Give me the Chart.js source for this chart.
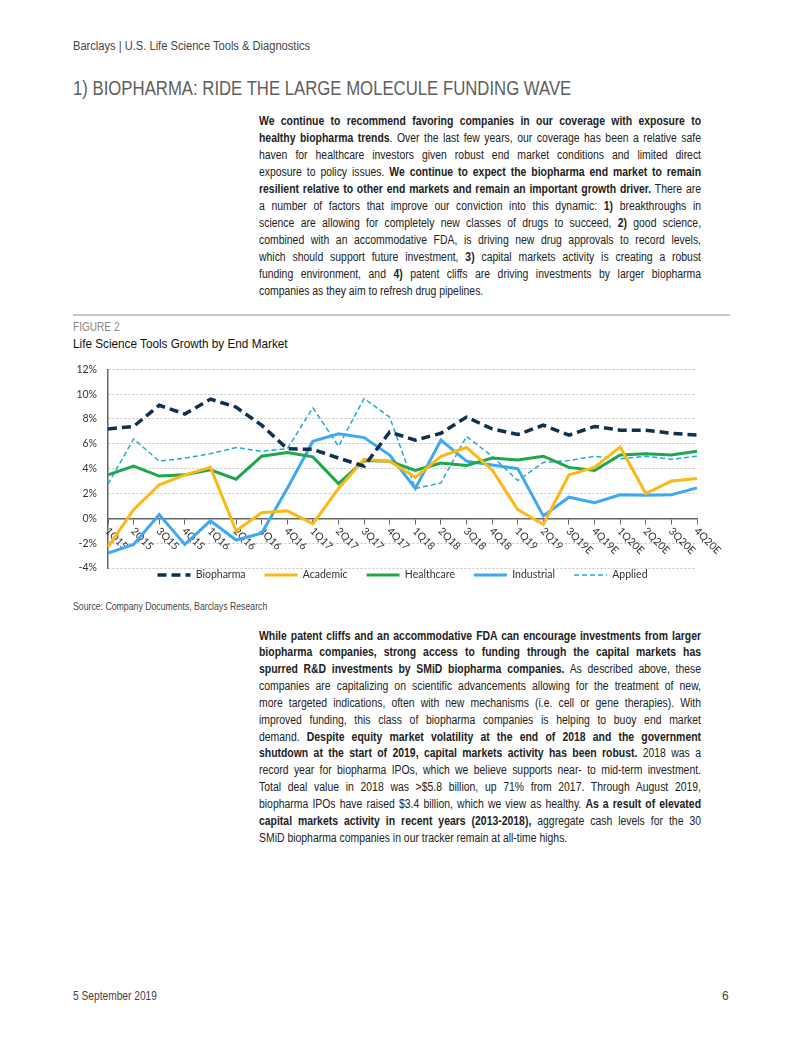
<!DOCTYPE html>
<html>
<head>
<meta charset="utf-8">
<script src="https://cdn.jsdelivr.net/npm/chart.js@4/dist/chart.umd.min.js"></script>
<style>
  html, body { margin: 0; padding: 0; background: #fff; }
  body { width: 802px; height: 1037px; position: relative; overflow: hidden;
         font-family: "Liberation Sans", Arial, sans-serif; color: #222; }
  .abs { position: absolute; white-space: nowrap; transform-origin: 0 0; }
  .hdr { left: 73px; top: 38px; font-size: 12.5px; line-height: 16px; color: #444; transform: scaleX(0.89); }
  .title { left: 73px; top: 76px; font-size: 20px; line-height: 24px; color: #5e5e5e; transform: scaleX(0.837); }
  .para { position: absolute; left: 259px; width: 442px; font-size: 12.5px; color: #222; }
  .para div { width: 530px; transform: scaleX(0.834); transform-origin: 0 0;
              text-align: justify; text-align-last: justify; height: 17.1px; line-height: 17.1px; }
  .para div.last { text-align-last: left; }
  .para.p2 div { height: 16.85px; line-height: 16.85px; }
  .rule { position: absolute; left: 73px; top: 314px; width: 657px; height: 2px; background: #c8c8c8; }
  .fig { left: 73px; top: 320px; font-size: 12px; line-height: 14px; color: #888; transform: scaleX(0.84); }
  .ctitle { left: 73px; top: 336px; font-size: 13.5px; line-height: 16px; color: #111; transform: scaleX(0.87); }
  .src { left: 73px; top: 599px; font-size: 10.5px; line-height: 14px; color: #444; transform: scaleX(0.83); }
  .foot { left: 73px; top: 989px; font-size: 12px; line-height: 14px; color: #444; transform: scaleX(0.85); }
  .pg { left: 722px; top: 989px; font-size: 12px; line-height: 14px; color: #444; }
  #wrap { position: absolute; left: 60px; top: 352px; width: 685px; height: 236px; }
</style>
</head>
<body>
<div class="abs hdr">Barclays | U.S. Life Science Tools &amp; Diagnostics</div>
<div class="abs title">1) BIOPHARMA: RIDE THE LARGE MOLECULE FUNDING WAVE</div>

<div class="para" style="top:112.5px">
  <div><b>We continue to recommend favoring companies in our coverage with exposure to</b></div>
  <div><b>healthy biopharma trends</b>. Over the last few years, our coverage has been a relative safe</div>
  <div>haven for healthcare investors given robust end market conditions and limited direct</div>
  <div>exposure to policy issues. <b>We continue to expect the biopharma end market to remain</b></div>
  <div><b>resilient relative to other end markets and remain an important growth driver.</b> There are</div>
  <div>a number of factors that improve our conviction into this dynamic: <b>1)</b> breakthroughs in</div>
  <div>science are allowing for completely new classes of drugs to succeed, <b>2)</b> good science,</div>
  <div>combined with an accommodative FDA, is driving new drug approvals to record levels,</div>
  <div>which should support future investment, <b>3)</b> capital markets activity is creating a robust</div>
  <div>funding environment, and <b>4)</b> patent cliffs are driving investments by larger biopharma</div>
  <div class="last">companies as they aim to refresh drug pipelines.</div>
</div>

<div class="rule"></div>
<div class="abs fig">FIGURE 2</div>
<div class="abs ctitle">Life Science Tools Growth by End Market</div>

<div id="wrap"><canvas id="c"></canvas></div>

<div class="abs src">Source: Company Documents, Barclays Research</div>

<div class="para p2" style="top:627.5px">
  <div><b>While patent cliffs and an accommodative FDA can encourage investments from larger</b></div>
  <div><b>biopharma companies, strong access to funding through the capital markets has</b></div>
  <div><b>spurred R&amp;D investments by SMiD biopharma companies.</b> As described above, these</div>
  <div>companies are capitalizing on scientific advancements allowing for the treatment of new,</div>
  <div>more targeted indications, often with new mechanisms (i.e. cell or gene therapies). With</div>
  <div>improved funding, this class of biopharma companies is helping to buoy end market</div>
  <div>demand. <b>Despite equity market volatility at the end of 2018 and the government</b></div>
  <div><b>shutdown at the start of 2019, capital markets activity has been robust.</b> 2018 was a</div>
  <div>record year for biopharma IPOs, which we believe supports near- to mid-term investment.</div>
  <div>Total deal value in 2018 was &gt;$5.8 billion, up 71% from 2017. Through August 2019,</div>
  <div>biopharma IPOs have raised $3.4 billion, which we view as healthy. <b>As a result of elevated</b></div>
  <div><b>capital markets activity in recent years (2013-2018),</b> aggregate cash levels for the 30</div>
  <div class="last">SMiD biopharma companies in our tracker remain at all-time highs.</div>
</div>

<div class="abs foot">5 September 2019</div>
<div class="abs pg">6</div>

<script>
const quarters = ['1Q15','2Q15','3Q15','4Q15','1Q16','2Q16','3Q16','4Q16','1Q17','2Q17','3Q17','4Q17',
                  '1Q18','2Q18','3Q18','4Q18','1Q19','2Q19','3Q19E','4Q19E','1Q20E','2Q20E','3Q20E','4Q20E'];
const biopharma  = [7.2, 7.4, 9.1, 8.4, 9.6, 8.95, 7.5, 5.6, 5.55, 4.85, 4.2, 6.95, 6.3, 6.85, 8.15, 7.2, 6.75, 7.5, 6.7, 7.4, 7.1, 7.1, 6.85, 6.7];
const academic   = [-2.3, 0.7, 2.7, 3.5, 4.1, -1.0, 0.45, 0.6, -0.45, 2.4, 4.75, 4.6, 3.3, 5.0, 5.7, 3.9, 0.7, -0.5, 3.5, 4.1, 5.75, 2.0, 3.0, 3.2];
const healthcare = [3.5, 4.2, 3.4, 3.5, 3.9, 3.15, 5.0, 5.3, 4.95, 2.8, 4.65, 4.6, 3.85, 4.45, 4.25, 4.85, 4.7, 5.0, 4.1, 3.85, 5.1, 5.2, 5.1, 5.4];
const industrial = [-2.8, -2.1, 0.3, -2.1, -0.2, -1.75, -1.2, 2.4, 6.2, 6.8, 6.5, 5.1, 2.4, 6.3, 4.6, 4.3, 4.0, 0.2, 1.7, 1.25, 1.9, 1.85, 1.9, 2.45];
const applied    = [2.75, 6.4, 4.6, 4.85, 5.2, 5.7, 5.4, 5.6, 8.9, 5.8, 9.65, 8.15, 2.4, 2.85, 6.6, 5.0, 3.05, 4.5, 4.65, 5.0, 4.8, 5.0, 4.75, 5.0];
const yMin = -4, yMax = 12, yStep = 2;

const FONT = 'Lato, "Open Sans", sans-serif';
const LEG_PAD = 19, LEG_FONT = 10.5;

const xLabelPlugin = {
  id: 'xLabels',
  beforeDatasetsDraw(chart) {
    const xs = chart.scales.x, ys = chart.scales.y, ctx = chart.ctx;
    const y0 = ys.getPixelForValue(0);
    ctx.save();
    ctx.font = '10.5px ' + FONT;
    ctx.fillStyle = '#333';
    ctx.textAlign = 'left';
    ctx.textBaseline = 'middle';
    quarters.forEach((q, i) => {
      const x = xs.getPixelForTick(i);
      ctx.save();
      ctx.translate(x - 1, y0 + 11);
      ctx.rotate(Math.PI / 4);
      ctx.fillText(q, 0, 0);
      ctx.restore();
    });
    ctx.restore();
  }
};

const legendShift = {
  id: 'legendShift',
  afterLayout(chart) {
    const lg = chart.legend, ca = chart.chartArea;
    lg.left = ca.left;
    lg.right = ca.right;
    lg.width = ca.right - ca.left;
    lg.top = ca.bottom + 7 - LEG_PAD - LEG_FONT / 2;
    lg.bottom = lg.top + LEG_PAD * 2 + LEG_FONT + 10;
    lg.height = lg.bottom - lg.top;
  }
};

function ds(label, data, color, width, dash) {
  return { label, data, borderColor: color, backgroundColor: color, borderWidth: width,
           borderDash: dash, pointRadius: 0, pointHoverRadius: 0, tension: 0, fill: false,
           borderCapStyle: 'butt', borderJoinStyle: 'miter' };
}

new Chart(document.getElementById('c'), {
  type: 'line',
  data: {
    labels: quarters,
    datasets: [
      ds('Biopharma', biopharma, '#10304f', 3.5, [9, 5]),
      ds('Academic', academic, '#fbb816', 3, []),
      ds('Healthcare', healthcare, '#1ea84b', 3, []),
      ds('Industrial', industrial, '#3ea8f2', 3, []),
      ds('Applied', applied, '#22a7dc', 1.5, [5, 3])
    ]
  },
  options: {
    responsive: true,
    maintainAspectRatio: false,
    animation: false,
    events: [],
    layout: { padding: { left: 0, right: 48, top: 11, bottom: 0 } },
    plugins: {
      legend: {
        position: 'bottom',
        maxHeight: 20,
        labels: {
          usePointStyle: true, pointStyle: 'line', pointStyleWidth: 33, boxHeight: 10,
          padding: LEG_PAD, color: '#333', font: { family: FONT, size: LEG_FONT },
          generateLabels: chart => chart.data.datasets.map((d, i) => ({
            text: d.label,
            fillStyle: d.borderColor,
            strokeStyle: d.borderColor,
            lineWidth: d.borderWidth,
            lineDash: d.borderDash,
            lineDashOffset: 0,
            lineCap: 'butt',
            lineJoin: 'miter',
            pointStyle: 'line',
            rotation: 0,
            hidden: false,
            fontColor: '#333',
            datasetIndex: i
          }))
        }
      },
      tooltip: { enabled: false },
      title: { display: false }
    },
    scales: {
      x: {
        type: 'category',
        offset: false,
        position: { y: 0 },
        afterFit: s => { s.height = 0; },
        ticks: { display: false },
        grid: { drawOnChartArea: false, drawTicks: true, tickLength: 5, color: '#666', lineWidth: 1 },
        border: { display: true, color: '#666', width: 1.5 }
      },
      y: {
        min: yMin, max: yMax,
        afterFit: s => { s.width = 48; },
        ticks: { stepSize: yStep, padding: 11, color: '#333', font: { family: FONT, size: 10.5 },
                 callback: v => v + '%' },
        grid: { color: '#c4c4c4', lineWidth: 1, drawTicks: false },
        border: { display: true, color: '#666', width: 1.5, dash: [2, 2] }
      }
    }
  },
  plugins: [xLabelPlugin, legendShift]
});
</script>
</body>
</html>
